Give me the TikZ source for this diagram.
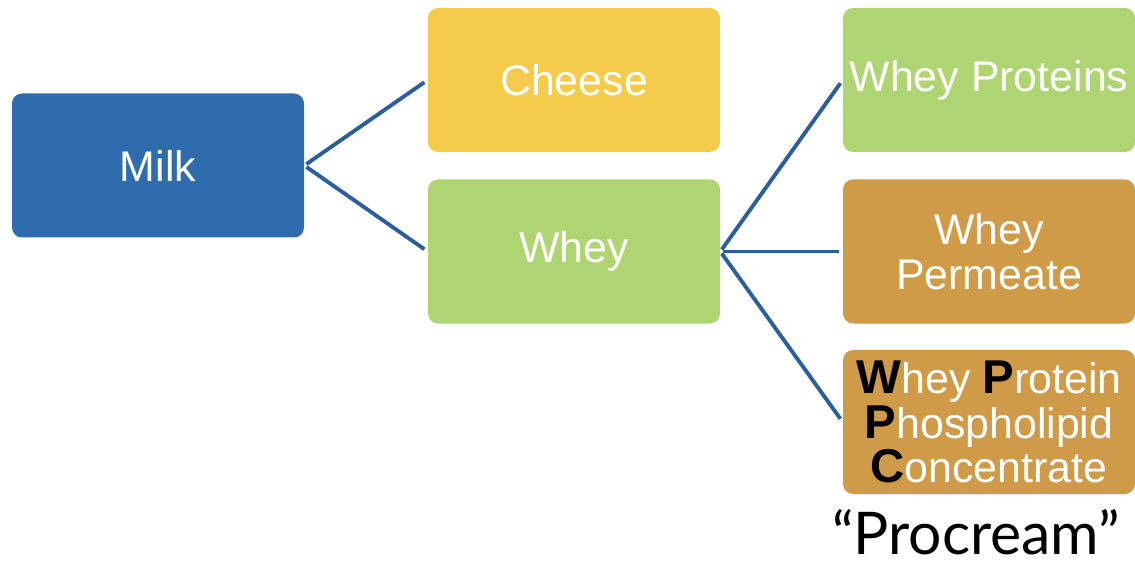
\documentclass[tikz,border=0pt]{standalone}
\usepackage{fontspec}
\setmainfont{Liberation Sans}
\newfontfamily\quotefont{Lato}
\usepackage{xcolor}
\usepackage{tikz}
\usetikzlibrary{positioning}

\definecolor{milkblue}{HTML}{2E6CAE}
\definecolor{cheeseyellow}{HTML}{F5CB4B}
\definecolor{wheygreen}{HTML}{AED572}
\definecolor{wheybrown}{HTML}{D09B48}
\definecolor{linkblue}{HTML}{2B5E9C}

\newcommand{\initial}[1]{{\color{black}\fontsize{27}{25.5}\selectfont\textbf{#1}}}

\begin{document}
\begin{tikzpicture}[every node/.style={rounded corners=0.2cm, minimum width=5.84cm, minimum height=2.88cm, inner sep=1pt, align=center, text=white, font=\fontsize{24.4}{25.5}\selectfont},
    link/.style={draw=linkblue, line width=2.2pt, shorten <=0.05cm, shorten >=0.08cm}]
    \useasboundingbox (0,0) rectangle (22.7,11.34);

    \node[fill=milkblue] (milk) at (3.16, 8.03) {Milk};

    \node[fill=cheeseyellow] (cheese) at (11.48, 9.74) {Cheese};
    \node[fill=wheygreen] (whey) at (11.48, 6.31) {Whey};

    \node[fill=wheygreen] (wproteins) at (19.78, 9.74) {Whey Proteins};
    \node[fill=wheybrown] (wpermeate) at (19.78, 6.31) {Whey\\Permeate};
    \node[fill=wheybrown] (wppc) at (19.78, 2.90) {\initial{W}hey \initial{P}rotein\\\initial{P}hospholipid\\\initial{C}oncentrate};

    \node[text=black, minimum width=0cm, minimum height=0cm, anchor=base, font=\quotefont\fontsize{33.5}{36}\selectfont] (procream) at (19.52, 0.26) {“Procream”};

    \draw[link] (milk.east) -- (cheese.west);
    \draw[link] (milk.east) -- (whey.west);

    \draw[link] (whey.east) -- (wproteins.west);
    \draw[link] (whey.east) -- (wpermeate.west);
    \draw[link] (whey.east) -- (wppc.west);
\end{tikzpicture}
\end{document}
